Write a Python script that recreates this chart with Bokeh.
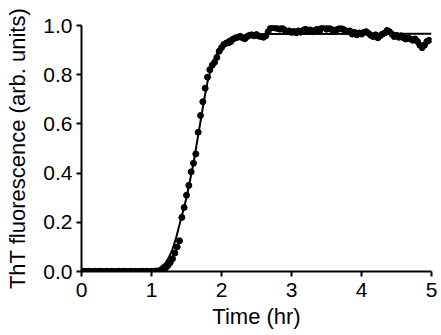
from bokeh.plotting import figure
from bokeh.models import Range1d, FixedTicker
from bokeh.embed import file_html
from bokeh.resources import INLINE

# Measurement times (minutes, every 2 min) and ThT fluorescence (arb. units)
time_min = list(range(0, 300, 2))
tht = [
    0.000, 0.001, 0.000, 0.001, 0.000, 0.000, 0.001, 0.000, 0.001, 0.000,
    0.000, 0.001, 0.000, 0.001, 0.000, 0.000, 0.001, 0.000, 0.001, 0.000,
    0.000, 0.001, 0.000, 0.001, 0.000, 0.000, 0.001, 0.000, 0.001, 0.000,
    0.001, 0.001, 0.002, 0.002, 0.004, 0.008, 0.014, 0.024, 0.036, 0.052,
    0.075, 0.100, 0.125, 0.220, 0.260, 0.310, 0.350, 0.405, 0.440, 0.478,
    0.566, 0.634, 0.690, 0.745, 0.790, 0.820, 0.838, 0.850, 0.870, 0.895,
    0.910, 0.923, 0.928, 0.930, 0.935, 0.945, 0.950, 0.952, 0.956, 0.950,
    0.946, 0.955, 0.960, 0.962, 0.958, 0.963, 0.957, 0.955, 0.952, 0.958,
    0.975, 0.990, 0.993, 0.990, 0.988, 0.985, 0.990, 0.982, 0.975, 0.978,
    0.972, 0.976, 0.970, 0.978, 0.973, 0.980, 0.985, 0.978, 0.982, 0.975,
    0.980, 0.985, 0.978, 0.990, 0.993, 0.985, 0.990, 0.985, 0.975, 0.982,
    0.985, 0.990, 0.985, 0.980, 0.975, 0.978, 0.965, 0.972, 0.962, 0.970,
    0.965, 0.972, 0.975, 0.968, 0.960, 0.955, 0.962, 0.950, 0.958, 0.965,
    0.970, 0.980, 0.975, 0.965, 0.955, 0.960, 0.952, 0.958, 0.950, 0.945,
    0.950, 0.945, 0.940, 0.945, 0.935, 0.920, 0.910, 0.920, 0.935, 0.940,
]
time_hr = [m / 60 for m in time_min]

# Sigmoidal fit curve
fit_t = [0.0, 0.9, 1.0, 1.1, 1.2, 1.25, 1.3, 1.35, 1.4, 1.45, 1.5, 1.55, 1.6,
         1.65, 1.7, 1.75, 1.8, 1.85, 1.9, 1.95, 2.0, 2.05, 2.1, 2.2, 2.4,
         2.7, 5.0]
fit_v = [0.0, 0.0, 0.002, 0.010, 0.035, 0.058, 0.090, 0.135, 0.190, 0.245,
         0.300, 0.370, 0.440, 0.525, 0.610, 0.695, 0.770, 0.825, 0.865,
         0.895, 0.920, 0.935, 0.945, 0.955, 0.962, 0.965, 0.966]

x_ticks = [0, 1, 2, 3, 4, 5]
y_ticks = [0.0, 0.2, 0.4, 0.6, 0.8, 1.0]

FONT = "Liberation Sans"

p = figure(width=441, height=335, output_backend="svg", toolbar_location=None,
           x_range=Range1d(0, 5), y_range=Range1d(0, 1.0),
           min_border_left=81, min_border_right=10, min_border_top=25,
           min_border_bottom=64)
p.outline_line_color = None
p.grid.visible = False
p.background_fill_color = "white"

p.scatter(time_hr, tht, size=6, color="black")
p.line(fit_t, fit_v, line_color="black", line_width=2)

for ax in (p.xaxis[0], p.yaxis[0]):
    ax.axis_line_width = 2
    ax.major_tick_line_width = 2
    ax.major_tick_out = 5
    ax.major_tick_in = 0
    ax.minor_tick_line_color = None
    ax.major_label_text_font = FONT
    ax.major_label_text_font_size = "21px"
    ax.major_label_text_color = "black"
    ax.axis_label_text_font = FONT
    ax.axis_label_text_font_size = "22px"
    ax.axis_label_text_font_style = "normal"
    ax.axis_label_text_color = "black"

p.xaxis.ticker = FixedTicker(ticks=x_ticks)
p.yaxis.ticker = FixedTicker(ticks=y_ticks)
p.xaxis.major_label_overrides = {t: str(t) for t in x_ticks}
p.yaxis.major_label_overrides = {t: f"{t:.1f}" for t in y_ticks}
p.xaxis.axis_label = "Time (hr)"
p.yaxis.axis_label = "ThT fluorescence (arb. units)"
p.xaxis.major_label_standoff = 6
p.yaxis.major_label_standoff = 4
p.xaxis.axis_label_standoff = 4
p.yaxis.axis_label_standoff = 10

open("out.html", "w").write(file_html(p, INLINE))
